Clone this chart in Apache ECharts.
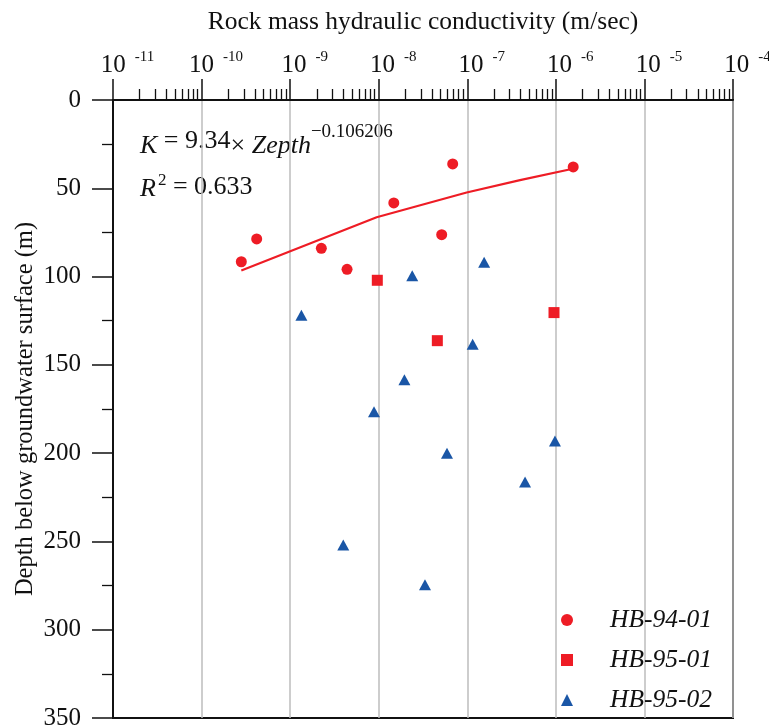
<!DOCTYPE html>
<html>
<head>
<meta charset="utf-8">
<script src="https://cdn.jsdelivr.net/npm/echarts@6/dist/echarts.min.js"></script>
<style>html,body{margin:0;padding:0;background:#fff}#c{width:769px;height:727px}</style>
</head>
<body>
<div id="c"></div>
<script>
// Hydraulic conductivity K (m/sec) and depth (m)
const hb9401K = [2.81e-10, 4.19e-10, 2.25e-9, 4.39e-9, 1.48e-8, 5.14e-8, 6.84e-8, 1.57e-6];
const hb9401D = [91.6, 78.7, 84.0, 95.9, 58.3, 76.3, 36.2, 37.9];
const hb9501K = [9.64e-9, 9.53e-7, 4.59e-8];
const hb9501D = [102.1, 120.4, 136.3];
const hb9502K = [2.39e-8, 1.55e-7, 1.34e-9, 1.15e-7, 1.95e-8, 8.85e-9, 5.90e-8, 3.98e-9, 9.77e-7, 4.49e-7, 3.33e-8];
const hb9502D = [99.5, 91.9, 121.9, 138.3, 158.4, 176.5, 200.1, 252.0, 193.1, 216.3, 274.6];
const fitK = [2.81e-10, 9.48e-9, 9.84e-8, 3.94e-7, 1.51e-6];
const fitD = [96.6, 66.4, 52.4, 45.4, 39.1];
const majorTicksK = [1e-11, 1e-10, 1e-9, 1e-8, 1e-7, 1e-6, 1e-5, 1e-4];
const minorMultipliers = [2, 3, 4, 5, 6, 7, 8, 9];
const depthTicks = [0, 50, 100, 150, 200, 250, 300, 350];
const seriesNames = ['HB-94-01', 'HB-95-01', 'HB-95-02'];

const minorTicksK = [];
for (let i = 0; i < majorTicksK.length - 1; i++) {
  minorMultipliers.forEach(m => minorTicksK.push(+(m * majorTicksK[i]).toPrecision(3)));
}
const zip = (a, b) => a.map((v, i) => [v, b[i]]);

const RED = '#ee1c25';
const BLUE = '#1a56a6';
const FONT = '"Liberation Serif", "DejaVu Serif", serif';

const chart = echarts.init(document.getElementById('c'));
chart.setOption({
  backgroundColor: '#ffffff',
  textStyle: { fontFamily: FONT, color: '#111' },
  grid: { left: 113, right: 36, top: 100, bottom: 9, outerBoundsMode: 'none', containLabel: false,
    show: true, borderColor: '#111', borderWidth: 2, backgroundColor: 'transparent' },
  xAxis: [{
    type: 'log', logBase: 10, min: 1e-11, max: 1e-4, position: 'top', splitNumber: 7,
    name: 'Rock mass hydraulic conductivity (m/sec)', nameLocation: 'middle', nameGap: 65, nameMoveOverlap: false,
    nameTextStyle: { fontSize: 25.5, fontFamily: FONT, color: '#111' },
    axisLine: { show: true, lineStyle: { color: '#111', width: 2 } },
    axisTick: { show: true, length: 21, inside: false, customValues: majorTicksK, lineStyle: { color: '#111', width: 1.5 } },
    axisLabel: {
      show: true, margin: 22, customValues: majorTicksK, showMinLabel: true, showMaxLabel: true, hideOverlap: false,
      formatter: v => '{pad|}{b|10}{s|' + Math.round(Math.log10(v)) + '}',
      rich: {
        pad: { width: 29, fontSize: 25, lineHeight: 28, verticalAlign: 'bottom' },
        b: { fontSize: 25, fontFamily: FONT, color: '#111', lineHeight: 28, verticalAlign: 'bottom' },
        s: { fontSize: 15, fontFamily: FONT, color: '#111', lineHeight: 16, verticalAlign: 'top', padding: [0, 0, 0, 9] }
      }
    },
    splitLine: { show: true, lineStyle: { color: '#bdbdbd', width: 1.5 } }
  }, {
    type: 'log', logBase: 10, min: 1e-11, max: 1e-4, position: 'top', splitNumber: 7,
    axisLine: { show: false },
    axisTick: { show: true, length: 11, inside: false, customValues: minorTicksK, lineStyle: { color: '#111', width: 1.3 } },
    axisLabel: { show: false },
    splitLine: { show: false }
  }],
  yAxis: {
    type: 'value', inverse: true, min: 0, max: 350, interval: 50,
    name: 'Depth below groundwater surface (m)', nameLocation: 'middle', nameGap: 75, nameRotate: 90, nameMoveOverlap: false,
    nameTextStyle: { fontSize: 24.5, fontFamily: FONT, color: '#111' },
    axisLine: { show: true, lineStyle: { color: '#111', width: 2 } },
    axisTick: { show: true, length: 21, inside: false, lineStyle: { color: '#111', width: 1.5 } },
    minorTick: { show: true, splitNumber: 2, length: 11, lineStyle: { color: '#111', width: 1.3 } },
    axisLabel: { margin: 32, fontSize: 25, fontFamily: FONT, color: '#111', customValues: depthTicks, hideOverlap: false, padding: [4, 0, 0, 0] },
    splitLine: { show: false }
  },
  legend: {
    orient: 'vertical', left: 561, top: 607, padding: 0, itemWidth: 12, itemHeight: 12, itemGap: 14,
    data: seriesNames,
    textStyle: { fontSize: 25.5, fontStyle: 'italic', fontFamily: FONT, color: '#111', lineHeight: 26, padding: [0, 0, 0, 32] }
  },
  graphic: [{
    type: 'text', left: 140, top: 123,
    style: {
      text: '{i|K} = 9.34{t|×} {i|Zepth}{s|−0.106206}',
      font: '26px ' + FONT, fill: '#111',
      rich: {
        i: { fontSize: 26, fontStyle: 'italic', fontFamily: FONT, fill: '#111', lineHeight: 36, verticalAlign: 'bottom' },
        t: { fontSize: 26, fontFamily: FONT, fill: '#111', lineHeight: 36, verticalAlign: 'bottom' },
        s: { fontSize: 19, fontFamily: FONT, fill: '#111', lineHeight: 16, verticalAlign: 'top' }
      }
    }
  }, {
    type: 'text', left: 140, top: 172,
    style: {
      text: '{i|R}{s|2} = 0.633',
      font: '26px ' + FONT, fill: '#111',
      rich: {
        i: { fontSize: 26, fontStyle: 'italic', fontFamily: FONT, fill: '#111', lineHeight: 30, verticalAlign: 'bottom' },
        s: { fontSize: 17, fontFamily: FONT, fill: '#111', lineHeight: 18, verticalAlign: 'top', padding: [0, 0, 0, 2] }
      }
    }
  }],
  series: [{
    name: seriesNames[0], type: 'scatter', data: zip(hb9401K, hb9401D),
    symbol: 'circle', symbolSize: 11, itemStyle: { color: RED, opacity: 1 }
  }, {
    name: seriesNames[1], type: 'scatter', data: zip(hb9501K, hb9501D),
    symbol: 'rect', symbolSize: 11, itemStyle: { color: RED, opacity: 1 }
  }, {
    name: seriesNames[2], type: 'scatter', data: zip(hb9502K, hb9502D),
    symbol: 'triangle', symbolSize: [12, 11], itemStyle: { color: BLUE, opacity: 1 }
  }, {
    name: 'fit', type: 'line', data: zip(fitK, fitD), showSymbol: false, symbol: 'none',
    lineStyle: { color: RED, width: 2.2 }, silent: true, z: 1
  }]
});
</script>
</body>
</html>
